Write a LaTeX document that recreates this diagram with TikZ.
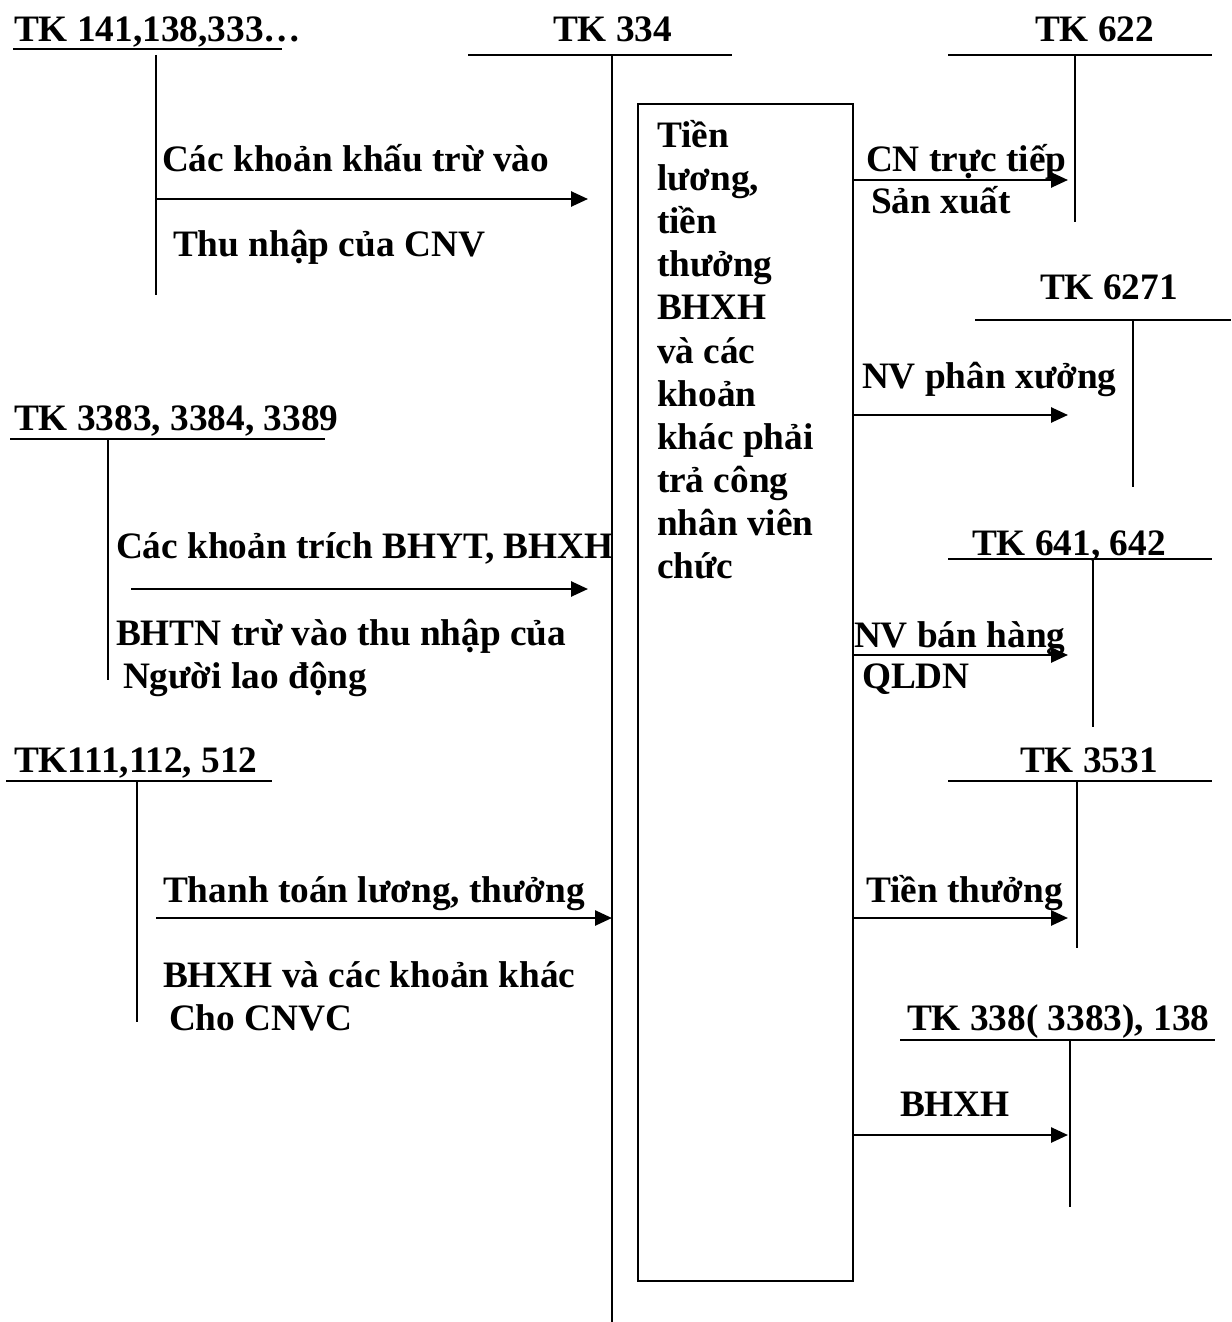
\documentclass[tikz,border=0pt]{standalone}
\usepackage{fontspec}
\setmainfont{Liberation Serif}
\usetikzlibrary{arrows.meta}
\tikzset{
  lbl/.style={anchor=base west, inner sep=0pt, outer sep=0pt, font=\fontsize{37.3bp}{43bp}\selectfont\bfseries},
  acc/.style={line width=1.7bp},
  flow/.style={line width=2.6bp, -{Triangle[length=17bp,width=15bp]}},
  boxst/.style={draw, line width=1.7bp, rectangle, inner sep=0pt, anchor=north west}
}
\begin{document}
\begin{tikzpicture}[x=1bp,y=-1bp]
\useasboundingbox (0,0) rectangle (1231,1322);
% ---- T-accounts: titles
\node[lbl] (t141) at (14,42) {TK 141,138,333…};
\node[lbl] (t334) at (553,42) {TK 334};
\node[lbl] (t622) at (1035,42) {TK 622};
\node[lbl] (t6271) at (1040,300) {TK 6271};
\node[lbl] (t3383) at (14,430) {TK 3383, 3384, 3389};
\node[lbl] (t641) at (972,555) {TK 641, 642};
\node[lbl] (t111) at (14,772) {TK111,112, 512};
\node[lbl] (t3531) at (1020,772) {TK 3531};
\node[lbl] (t338) at (907,1030) {TK 338( 3383), 138};
% ---- T-account lines
\coordinate (h141a) at (13,49); \coordinate (h141b) at (282,49);
\coordinate (v141a) at (156,55); \coordinate (v141b) at (156,295);
\coordinate (h334a) at (468,55); \coordinate (h334b) at (732,55);
\coordinate (v334a) at (612,55); \coordinate (v334b) at (612,1322);
\coordinate (h622a) at (948,55); \coordinate (h622b) at (1212,55);
\coordinate (v622a) at (1075,55); \coordinate (v622b) at (1075,222);
\coordinate (h6271a) at (975,320); \coordinate (h6271b) at (1231,320);
\coordinate (v6271a) at (1133,320); \coordinate (v6271b) at (1133,487);
\coordinate (h3383a) at (10,439); \coordinate (h3383b) at (325,439);
\coordinate (v3383a) at (108,439); \coordinate (v3383b) at (108,680);
\coordinate (h641a) at (948,559); \coordinate (h641b) at (1212,559);
\coordinate (v641a) at (1093,559); \coordinate (v641b) at (1093,727);
\coordinate (h111a) at (6,781); \coordinate (h111b) at (272,781);
\coordinate (v111a) at (137,781); \coordinate (v111b) at (137,1022);
\coordinate (h3531a) at (948,781); \coordinate (h3531b) at (1212,781);
\coordinate (v3531a) at (1077,781); \coordinate (v3531b) at (1077,948);
\coordinate (h338a) at (900,1040); \coordinate (h338b) at (1215,1040);
\coordinate (v338a) at (1070,1040); \coordinate (v338b) at (1070,1207);
\foreach \n in {141,334,622,6271,3383,641,111,3531,338}{
  \draw[acc] (h\n a) -- (h\n b);
  \draw[acc] (v\n a) -- (v\n b);
}
% ---- central box
\node[boxst, minimum width=215bp, minimum height=1177bp] (box) at (637,103) {};
\foreach \t [count=\i] in {Tiền,{lương,},tiền,thưởng,BHXH,và các,khoản,khác phải,trả công,nhân viên,chức}{
  \node[lbl] (bt\i) at (657,{148+43*(\i-1)}) {\t};
}
% ---- left flows
\coordinate (f1a) at (156,199); \coordinate (f1b) at (588,199);
\draw[flow] (f1a) -- (f1b);
\node[lbl] (l1a) at (162,172) {Các khoản khấu trừ vào};
\node[lbl] (l1b) at (173,257) {Thu nhập của CNV};
\coordinate (f2a) at (131,589); \coordinate (f2b) at (588,589);
\draw[flow] (f2a) -- (f2b);
\node[lbl] (l2a) at (116,558) {Các khoản trích BHYT, BHXH};
\node[lbl] (l2b) at (116,645) {BHTN trừ vào thu nhập của};
\node[lbl] (l2c) at (123,688) {Người lao động};
\coordinate (f3a) at (156,918); \coordinate (f3b) at (612,918);
\draw[flow] (f3a) -- (f3b);
\node[lbl] (l3a) at (163,902) {Thanh toán lương, thưởng};
\node[lbl] (l3b) at (163,987) {BHXH và các khoản khác};
\node[lbl] (l3c) at (169,1030) {Cho CNVC};
% ---- right flows
\coordinate (r1a) at (852,180); \coordinate (r1b) at (1068,180);
\draw[flow] (r1a) -- (r1b);
\node[lbl] (m1a) at (866,172) {CN trực tiếp};
\node[lbl] (m1b) at (871,214) {Sản xuất};
\coordinate (r2a) at (852,415); \coordinate (r2b) at (1068,415);
\draw[flow] (r2a) -- (r2b);
\node[lbl] (m2a) at (862,388) {NV phân xưởng};
\coordinate (r3a) at (852,655); \coordinate (r3b) at (1068,655);
\draw[flow] (r3a) -- (r3b);
\node[lbl] (m3a) at (854,647) {NV bán hàng};
\node[lbl] (m3b) at (862,688) {QLDN};
\coordinate (r4a) at (852,918); \coordinate (r4b) at (1068,918);
\draw[flow] (r4a) -- (r4b);
\node[lbl] (m4a) at (866,902) {Tiền thưởng};
\coordinate (r5a) at (852,1135); \coordinate (r5b) at (1068,1135);
\draw[flow] (r5a) -- (r5b);
\node[lbl] (m5a) at (900,1116) {BHXH};
\end{tikzpicture}
\end{document}
